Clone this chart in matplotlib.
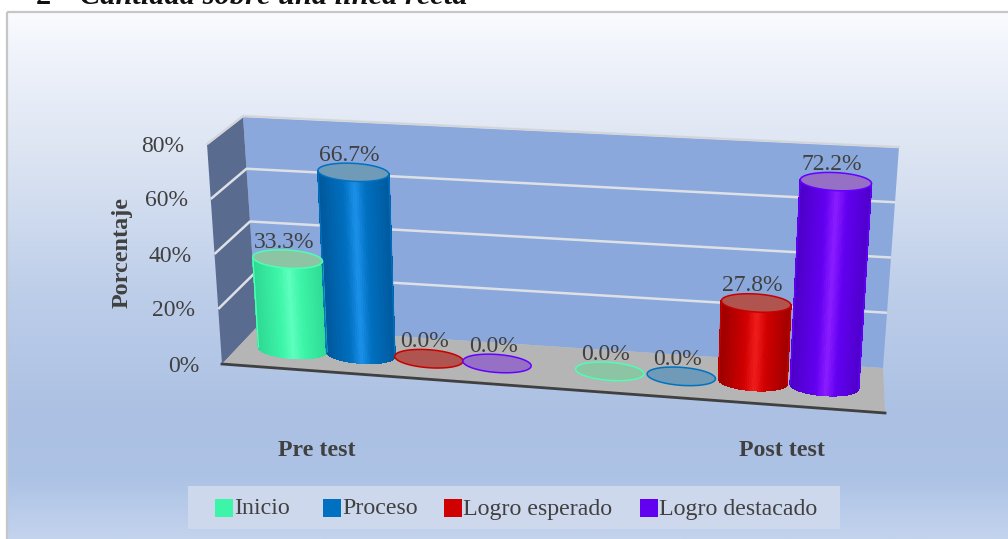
import numpy as np
import matplotlib
matplotlib.use('Agg')
import matplotlib.pyplot as plt
from matplotlib.colors import LinearSegmentedColormap
from matplotlib.patches import Polygon, Rectangle
from matplotlib.collections import PolyCollection

# data
categories = ['Pre test', 'Post test']
series = ['Inicio', 'Proceso', 'Logro esperado', 'Logro destacado']
pre_test = [33.3, 66.7, 0.0, 0.0]
post_test = [0.0, 0.0, 27.8, 72.2]
y_ticks = [0, 20, 40, 60, 80]

# dark edge, base, bright centre, cap, outline
styles = [
    ('#2fd994', '#3df5a8', '#5effbf', '#8cc4a4', '#4dffb4'),
    ('#00589c', '#0070c0', '#1c90ea', '#6f9ab8', '#0072c0'),
    ('#9c0000', '#d00000', '#f01c1c', '#b0544f', '#c80000'),
    ('#4c00c8', '#6200f0', '#8a1cff', '#9670c4', '#6600ff'),
]
legend_x = [215, 323, 444, 640]

plt.rcParams['font.family'] = ['Liberation Serif', 'DejaVu Serif']
TEXT = '#404040'

fig = plt.figure(figsize=(10.08, 5.39), dpi=100)
ax = fig.add_axes([0, 0, 1, 1])

# corners of the 3d box in pixels: [front/back][bottom/top][left/right]
box = np.array([
    [[[222, 364], [885, 413]], [[207, 144], [900, 178]]],
    [[[257, 327], [883, 368]], [[243, 116], [899, 147]]],
], dtype=float)


def project(u, pct, w):
    # trilinear position inside the box, u across, pct up, w into the wall
    t = pct / 80.0
    front = (1 - t) * ((1 - u) * box[0, 0, 0] + u * box[0, 0, 1]) + t * ((1 - u) * box[0, 1, 0] + u * box[0, 1, 1])
    back = (1 - t) * ((1 - u) * box[1, 0, 0] + u * box[1, 0, 1]) + t * ((1 - u) * box[1, 1, 0] + u * box[1, 1, 1])
    return (1 - w) * front + w * back


# background
stops = [(12, '#f9fbfe'), (60, '#eef2fa'), (150, '#dde5f3'), (300, '#bccde9'),
         (420, '#abc0e3'), (480, '#adc3e5'), (539, '#c3d3ee')]
cmap = LinearSegmentedColormap.from_list('bg', [((y - 12) / 527, c) for y, c in stops])
grad = np.linspace(0, 1, 400).reshape(-1, 1)
ax.imshow(grad, cmap=cmap, extent=[7, 1008, 539, 12], aspect='auto', zorder=0)
ax.add_patch(Rectangle((7, 12), 1003, 530, fill=False, ec='#c6c6c6', lw=1.6, zorder=1))

# walls and floor
ax.add_patch(Polygon([project(0, 0, 1), project(1, 0, 1), project(1, 80, 1), project(0, 80, 1)],
                     fc='#8aa8db', ec='none', zorder=1))
ax.add_patch(Polygon([project(0, 0, 0), project(0, 0, 1), project(0, 80, 1), project(0, 80, 0)],
                     fc='#5a6b90', ec='none', zorder=1))
ax.add_patch(Polygon([project(0, 0, 0), project(1, 0, 0), project(1, 0, 1), project(0, 0, 1)],
                     fc='#b5b5b5', ec='none', zorder=1))

for t in y_ticks[1:]:
    a, b, c = project(0, t, 0), project(0, t, 1), project(1, t, 1)
    ax.plot([a[0], b[0], c[0]], [a[1], b[1], c[1]], color='#dde1e6', lw=1.8, zorder=2,
            solid_capstyle='butt')
for t in y_ticks:
    p = project(0, t, 0)
    ax.text(p[0] - 23, p[1] + 2, '%d%%' % t, ha='right', va='center', fontsize=17, color=TEXT, zorder=6)

a, b = project(0, 0, 0), project(1, 0, 0)
ax.plot([a[0], b[0]], [a[1], b[1]], color='#404040', lw=2, zorder=3)

# bars
radius = 0.053
ry = 9
depth = 0.5
steps = [0.1057, 0.111]
centers = [0.241, 0.741]
theta = np.linspace(0, np.pi, 61)
full = np.linspace(0, 2 * np.pi, 121)


def ring(u, pct, angles):
    pts = [project(u + radius * np.cos(th), pct, depth) + np.array([0, ry * np.sin(th)]) for th in angles]
    return np.array(pts)


for i, values in enumerate([pre_test, post_test]):
    for j, value in enumerate(values):
        u = centers[i] + (j - 1.5) * steps[i]
        dark, base, light, cap, edge = styles[j]
        if value > 0:
            low = ring(u, 0, theta)
            high = ring(u, value, theta)
            strips = [[low[k], low[k + 1], high[k + 1], high[k]] for k in range(len(theta) - 1)]
            pos = np.abs(np.cos((theta[:-1] + theta[1:]) / 2))
            cm = LinearSegmentedColormap.from_list('b', [(0, light), (0.3, base), (1, dark)])
            cols = [cm(p) for p in pos]
            ax.add_collection(PolyCollection(strips, facecolors=cols, edgecolors=cols, linewidths=0.6,
                                             antialiased=False, zorder=4 + 0.01 * j))
            ax.plot([low[0][0], high[0][0]], [low[0][1], high[0][1]], color=edge, lw=1, zorder=4.1)
            ax.plot([low[-1][0], high[-1][0]], [low[-1][1], high[-1][1]], color=edge, lw=1, zorder=4.1)
        ax.add_patch(Polygon(ring(u, value, full), fc=cap, ec=edge, lw=1.1, zorder=4.2))
        top = project(u, value, depth)
        ax.text(top[0] - 4, top[1] - 17, '%.1f%%' % value, ha='center', va='center',
                fontsize=17, color=TEXT, zorder=6)

# top edge of the walls
a, b, c = project(0, 80, 0), project(0, 80, 1), project(1, 80, 1)
ax.plot([a[0], b[0], c[0]], [a[1], b[1], c[1]], color='#d2d4d8', lw=1.2, zorder=2)

# axis texts
ax.text(122, 253, 'Porcentaje', rotation=90, ha='center', va='center', fontsize=17.4,
        fontweight='bold', color=TEXT)
for name, x in zip(categories, [317, 782]):
    ax.text(x, 450, name, ha='center', va='center', fontsize=17.2, fontweight='bold', color=TEXT)

# legend
ax.add_patch(Rectangle((188, 486), 652, 43, fc='#cdd8ec', ec='none', zorder=2))
for name, x, st in zip(series, legend_x, styles):
    ax.add_patch(Rectangle((x, 499), 18, 18, fc=st[1], ec='none', zorder=3))
    ax.text(x + 19, 509, name, ha='left', va='center', fontsize=17.2, color=TEXT, zorder=3)

# caption of the page, cut by the crop
ax.text(80, 4, 'Cantidad sobre una línea recta', fontsize=21.9, fontweight='bold', fontstyle='italic',
        color='#111111', va='baseline', clip_on=True)
ax.text(36, 4, '2', fontsize=21.9, fontweight='bold', color='#111111', va='baseline', clip_on=True)

ax.set_xlim(0, 1008)
ax.set_ylim(539, 0)
ax.axis('off')
fig.savefig('out.png', dpi=100)
